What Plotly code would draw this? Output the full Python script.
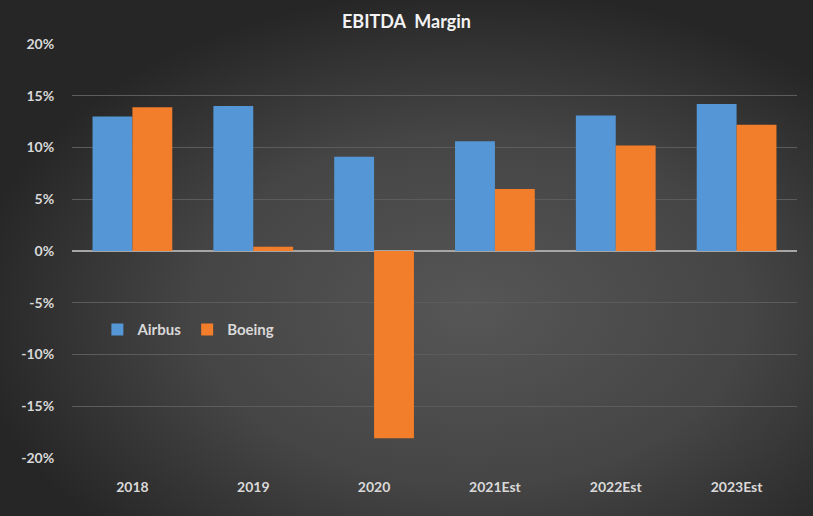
import base64
import plotly.graph_objects as go

categories = ["2018", "2019", "2020", "2021Est", "2022Est", "2023Est"]
airbus = [0.130, 0.140, 0.091, 0.106, 0.131, 0.142]
boeing = [0.139, 0.004, -0.181, 0.060, 0.102, 0.122]
y_ticks = [-0.20, -0.15, -0.10, -0.05, 0.0, 0.05, 0.10, 0.15, 0.20]

W, H = 813, 516
svg = f'''<svg xmlns="http://www.w3.org/2000/svg" width="{W}" height="{H}" viewBox="0 0 {W} {H}" preserveAspectRatio="none">
<defs><radialGradient id="g" cx="0.58" cy="0.6" r="0.62" gradientUnits="objectBoundingBox">
<stop offset="0" stop-color="#565656"/><stop offset="0.55" stop-color="#454545"/><stop offset="1" stop-color="#262626"/>
</radialGradient></defs><rect width="{W}" height="{H}" fill="url(#g)"/></svg>'''
bg = "data:image/svg+xml;base64," + base64.b64encode(svg.encode()).decode()

font = "Lato, 'Open Sans', sans-serif"
fig = go.Figure()
fig.add_bar(x=categories, y=airbus, name="<b>Airbus</b>", marker=dict(color="#5597d6", line=dict(width=0)))
fig.add_bar(x=categories, y=boeing, name="<b>Boeing</b>", marker=dict(color="#f27d2a", line=dict(width=0)))

fig.update_layout(
    width=W, height=H,
    paper_bgcolor="#3a3a3a", plot_bgcolor="rgba(0,0,0,0)",
    margin=dict(l=72, r=16, t=44, b=58),
    barmode="group", bargap=0.34, bargroupgap=0,
    title=dict(text="<b>EBITDA  Margin</b>", x=0.5, xanchor="center", y=0.957, yanchor="middle",
               font=dict(family=font, size=18, color="#f2f2f2")),
    font=dict(family=font, color="#d9d9d9"),
    showlegend=True,
    legend=dict(orientation="h", x=0.035, y=0.31, xanchor="left", yanchor="middle",
                bgcolor="rgba(0,0,0,0)", font=dict(family=font, size=15, color="#d9d9d9"),
                itemwidth=30, traceorder="normal"),
    images=[dict(source=bg, xref="paper", yref="paper", x=-72/725, y=1 + 44/414,
                 sizex=W/725, sizey=H/414, sizing="stretch", xanchor="left", yanchor="top",
                 layer="below")],
)
fig.update_yaxes(range=[-0.20, 0.20], tickmode="array", tickvals=y_ticks,
                 ticktext=[f"<b>{int(round(v*100))}%</b>" for v in y_ticks],
                 showgrid=True, gridcolor="#5c5c5c", gridwidth=1,
                 zeroline=True, zerolinecolor="#a6a6a6", zerolinewidth=1.5,
                 ticks="outside", ticklen=14, tickcolor="rgba(0,0,0,0)",
                 tickfont=dict(family=font, size=14, color="#d9d9d9"), fixedrange=True)
fig.update_xaxes(tickmode="array", tickvals=categories, ticktext=[f"<b>{c}</b>" for c in categories],
                 showgrid=False, showline=False, ticks="outside", ticklen=16,
                 tickcolor="rgba(0,0,0,0)", tickfont=dict(family=font, size=14, color="#d9d9d9"))

fig.write_html("out.html", config={"displayModeBar": False},
               post_script="document.body.style.margin='0';document.body.style.background='#262626';")
